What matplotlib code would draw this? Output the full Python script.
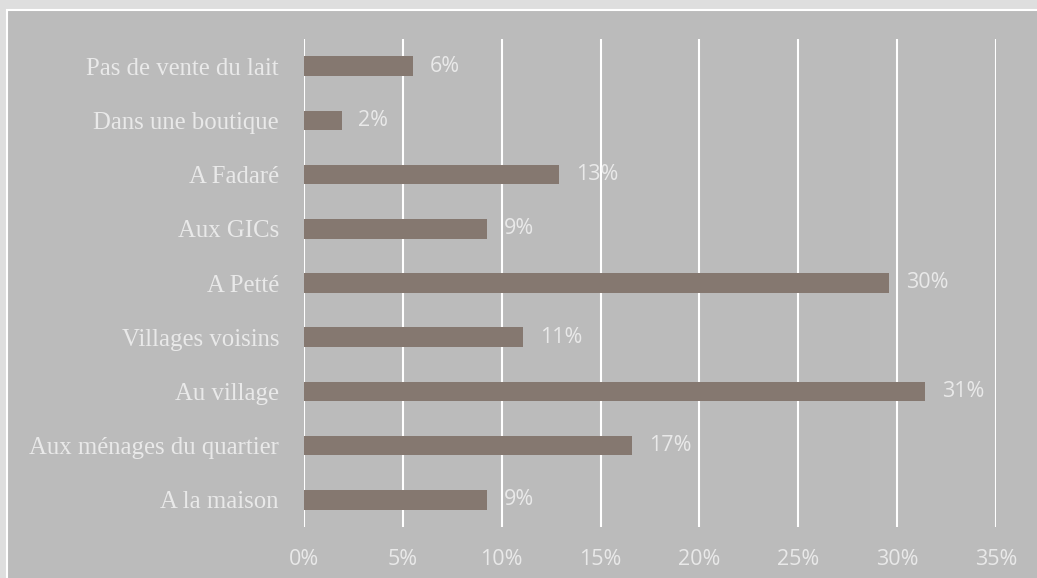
import matplotlib.pyplot as plt
from matplotlib.patches import Rectangle

# categories listed bottom to top
categories = ['A la maison', 'Aux ménages du quartier', 'Au village', 'Villages voisins',
              'A Petté', 'Aux GICs', 'A Fadaré', 'Dans une boutique', 'Pas de vente du lait']
values = [9.25, 16.6, 31.4, 11.1, 29.6, 9.25, 12.9, 1.9, 5.5]
labels = ['9%', '17%', '31%', '11%', '30%', '9%', '13%', '2%', '6%']
xticks = [0, 5, 10, 15, 20, 25, 30, 35]

bar_col = '#857870'
txt_col = '#e9e9e9'
sans = ['Open Sans', 'DejaVu Sans']

fig = plt.figure(figsize=(10.37, 5.78), dpi=100)
fig.patch.set_facecolor('#dedede')
# inner gray panel with white border
fig.patches.append(Rectangle((7/1037, -0.05), 1.1, 1 - 10/578 + 0.05, transform=fig.transFigure,
                             facecolor='#bbbbbb', edgecolor='white', linewidth=1.5, zorder=-10))

ax = fig.add_axes([304/1037, 1 - 527/578, (996 - 304)/1037, (527 - 39)/578])
ax.set_facecolor('none')
ax.barh(range(len(categories)), values, height=0.36, color=bar_col, zorder=3)

for i, (v, lab) in enumerate(zip(values, labels)):
    ax.text(v + 0.85, i, lab, va='center', ha='left', fontsize=15.5, color=txt_col, family=sans)

ax.set_xlim(0, 35)
ax.set_ylim(-0.5, len(categories) - 0.5)
ax.set_xticks(xticks)
ax.set_xticklabels([f'{t}%' for t in xticks], fontsize=15.5, color=txt_col, family=sans)
ax.set_yticks(range(len(categories)))
ax.set_yticklabels(categories, fontsize=17.8, color=txt_col, family=['Liberation Serif', 'DejaVu Serif'])
ax.tick_params(axis='both', length=0)
ax.tick_params(axis='x', pad=16)
ax.tick_params(axis='y', pad=18)
ax.grid(axis='x', color='white', linewidth=1.5, zorder=1)
for s in ax.spines.values():
    s.set_visible(False)

plt.savefig('out.png', dpi=100, facecolor=fig.get_facecolor())
